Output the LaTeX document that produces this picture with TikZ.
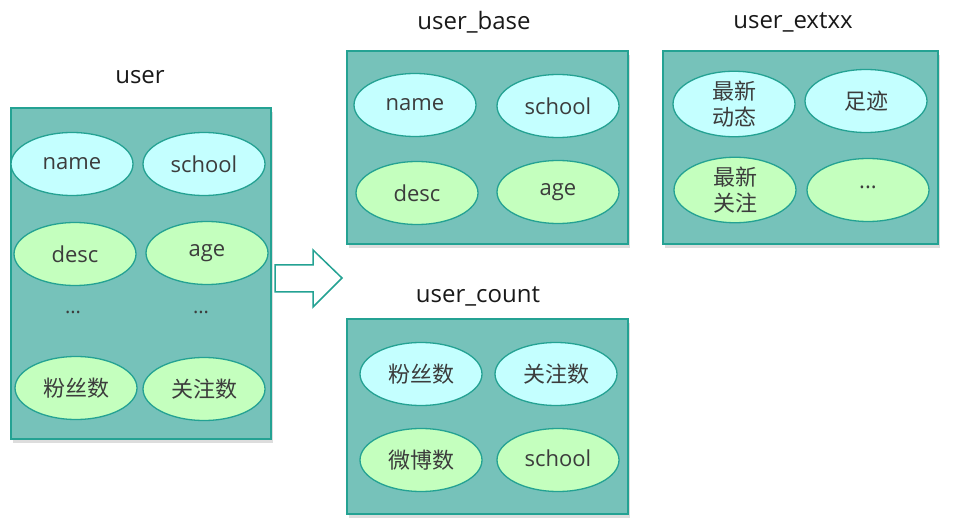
\documentclass[tikz,border=0pt]{standalone}
\usepackage{fontspec}
\setmainfont{Open Sans}
\newfontfamily\cjk{Noto Sans CJK SC}
\usetikzlibrary{shapes.geometric,shadows}
\definecolor{boxfill}{HTML}{76C2BA}
\definecolor{boxline}{HTML}{24A293}
\definecolor{cyanfill}{HTML}{C4FFFF}
\definecolor{greenfill}{HTML}{C4FFBE}
\definecolor{txt}{HTML}{3C3C3C}
\tikzset{
  tbl/.style={draw=boxline, fill=boxfill, line width=2pt, inner sep=0pt, anchor=north west,
    drop shadow={opacity=0.22, shadow xshift=2pt, shadow yshift=-4pt, fill=black!60}},
  ell/.style={ellipse, draw=boxline, line width=1.3pt, minimum width=122pt, minimum height=63pt,
    inner sep=0pt, text=txt, align=center, font=\fontsize{22}{26}\selectfont},
  cy/.style={ell, fill=cyanfill},
  gr/.style={ell, fill=greenfill},
  ttl/.style={font=\fontsize{24}{28}\selectfont, text=black!90},
  dots/.style={text=txt, font=\fontsize{20}{24}\selectfont},
  bigarrow/.style={draw=boxline, fill=white, line width=1.5pt, line join=miter}
}
\begin{document}
\begin{tikzpicture}[x=1pt,y=-1pt]
\useasboundingbox (0,0) rectangle (954,529);
% user
\node[ttl] (tuser) at (140,77) {user};
\node[tbl, minimum width=260pt, minimum height=331pt] (user) at (10,107) {};
\node[cy] (u1) at (72,164) {name};
\node[cy] (u2) at (204,164) {school};
\node[gr] (u3) at (75,254) {desc};
\node[gr] (u4) at (207,253) {age};
\node[dots] (u5) at (73,312) {...};
\node[dots] (u6) at (201,312) {...};
\node[gr] (u7) at (76,388) {\cjk 粉丝数};
\node[gr] (u8) at (204,389) {\cjk 关注数};
% arrow
\draw[bigarrow] (275,265) -- (313,265) -- (313,250) -- (342,278) -- (313,307) -- (313,292) -- (275,292) -- cycle;
% user_base
\node[ttl] (tbase) at (474,22) {user\_base};
\node[tbl, minimum width=281pt, minimum height=193pt] (base) at (346,50) {};
\node[cy] (b1) at (415,105) {name};
\node[cy] (b2) at (558,106) {school};
\node[gr] (b3) at (417,193) {desc};
\node[gr] (b4) at (558,192) {age};
% user_extxx
\node[ttl] (text) at (793,22) {user\_extxx};
\node[tbl, minimum width=275pt, minimum height=193pt] (ext) at (662,50) {};
\node[cy] (e1) at (734,104) {\cjk 最新\\\cjk 动态};
\node[cy] (e2) at (866,101) {\cjk 足迹};
\node[gr] (e3) at (735,190) {\cjk 最新\\\cjk 关注};
\node[gr] (e4) at (868,190) {\raisebox{6pt}{...}};
% user_count
\node[ttl] (tcount) at (478,296) {user\_count};
\node[tbl, minimum width=281pt, minimum height=195pt] (count) at (346,318) {};
\node[cy] (c1) at (421,374) {\cjk 粉丝数};
\node[cy] (c2) at (556,374) {\cjk 关注数};
\node[gr] (c3) at (421,460) {\cjk 微博数};
\node[gr] (c4) at (558,460) {\raisebox{4pt}{school}};
\end{tikzpicture}
\end{document}
